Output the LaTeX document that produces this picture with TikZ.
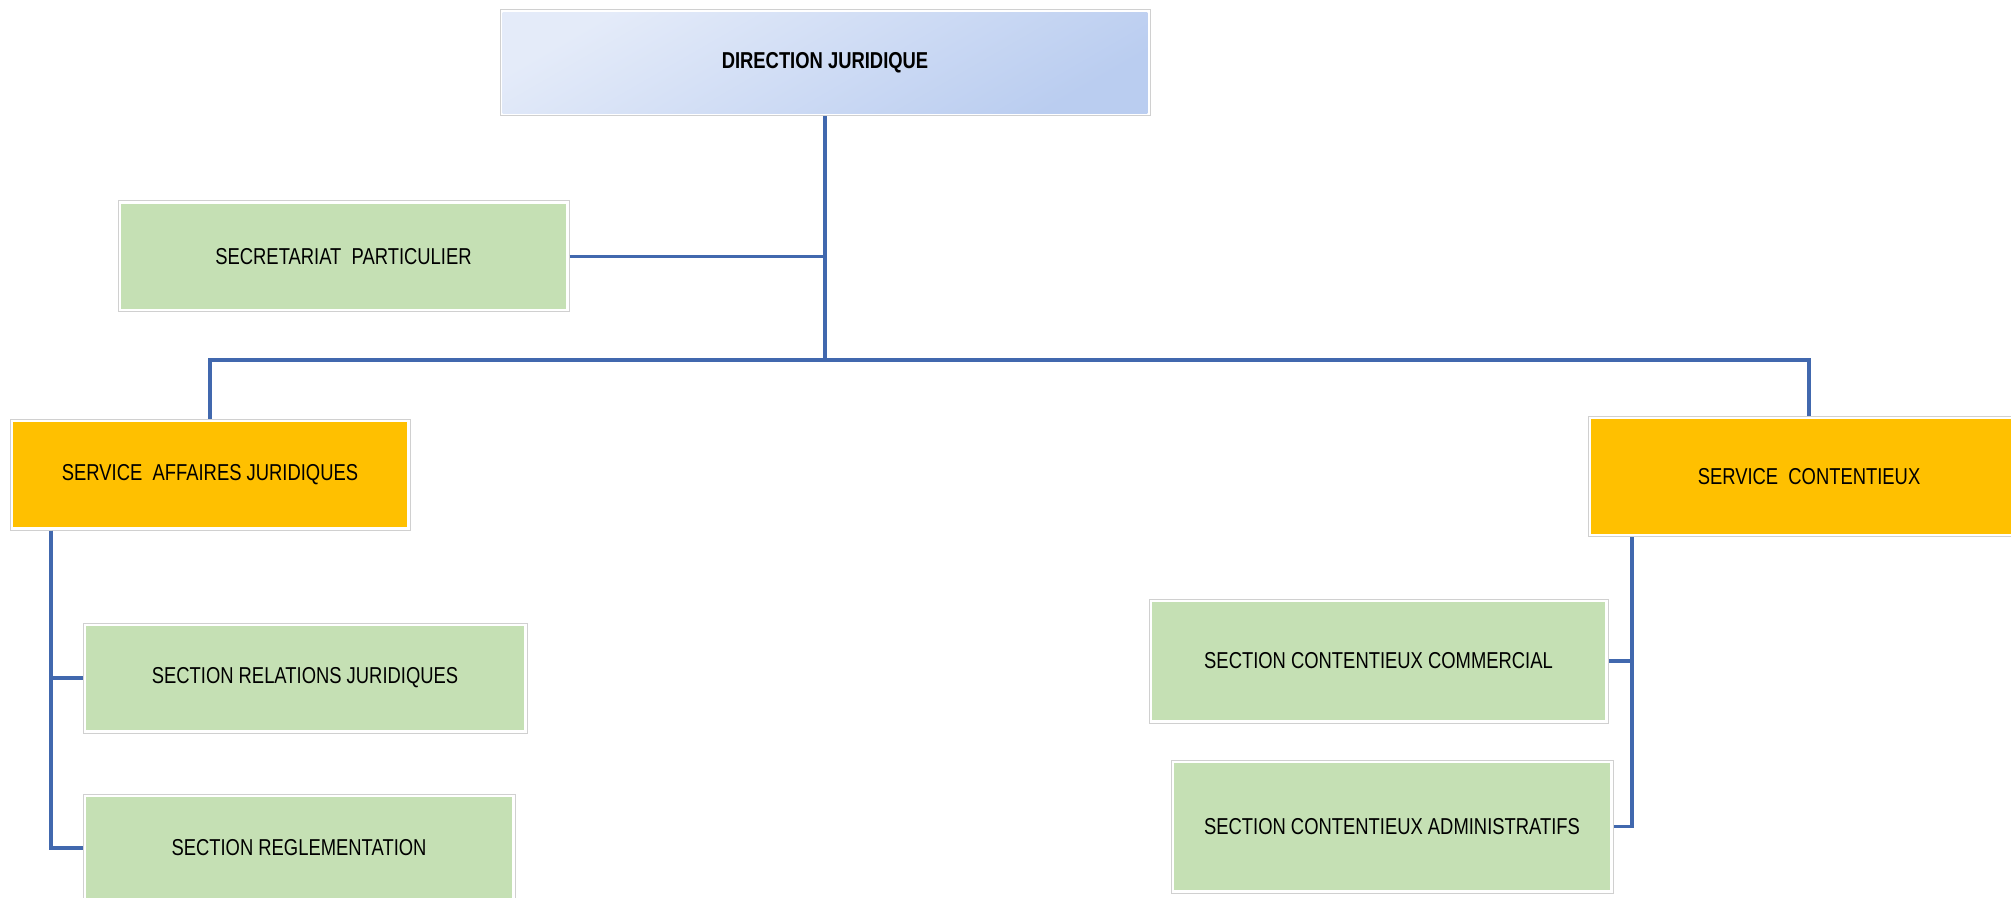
\documentclass[tikz,border=0pt]{standalone}
\usepackage{fontspec}
\setmainfont[FakeStretch=0.8]{Liberation Sans}
\definecolor{greenfill}{HTML}{C5E0B4}
\definecolor{orangefill}{HTML}{FFC000}
\definecolor{blueA}{HTML}{E4EBF9}
\definecolor{blueB}{HTML}{BACDF0}
\definecolor{linkblue}{HTML}{4168AE}
\definecolor{frame}{HTML}{D0D0D0}
\tikzset{
  orgbox/.style={draw=frame, line width=0.5pt, inner sep=0pt, align=center,
    font=\fontsize{11.5pt}{13pt}\selectfont,
    path picture={\fill[#1] ([shift={(1.3pt,-1.3pt)}]path picture bounding box.north west)
      rectangle ([shift={(-1.3pt,1.3pt)}]path picture bounding box.south east);}},
  headbox/.style={draw=frame, line width=0.5pt, inner sep=0pt, align=center,
    font=\fontsize{11.5pt}{13pt}\selectfont\bfseries,
    path picture={\shade[top color=blueA, bottom color=blueB, shading angle=30]
      ([shift={(1.3pt,-1.3pt)}]path picture bounding box.north west)
      rectangle ([shift={(-1.3pt,1.3pt)}]path picture bounding box.south east);}},
  link/.style={draw=linkblue, line width=1.6pt}
}
\begin{document}
\begin{tikzpicture}[x=0.5pt, y=-0.5pt]
  \useasboundingbox (0,0) rectangle (2011,898);
  \clip (0,0) rectangle (2011,898);

  % boxes
  \node[headbox, minimum width=325pt, minimum height=53pt] (dir) at (825,63) {DIRECTION JURIDIQUE};
  \node[orgbox=greenfill, minimum width=225.5pt, minimum height=55.5pt] (sec) at (343.5,256.5) {SECRETARIAT\ \ PARTICULIER};
  \node[orgbox=orangefill, minimum width=200pt, minimum height=55.5pt] (saj) at (210,474.5) {SERVICE\ \ AFFAIRES JURIDIQUES};
  \node[orgbox=orangefill, minimum width=221pt, minimum height=60pt] (sc) at (1809,476.5) {SERVICE\ \ CONTENTIEUX};
  \node[orgbox=greenfill, minimum width=222pt, minimum height=55pt] (srj) at (305,678) {SECTION RELATIONS JURIDIQUES};
  \node[orgbox=greenfill, minimum width=216pt, minimum height=54pt] (sr) at (299,848) {SECTION REGLEMENTATION};
  \node[orgbox=greenfill, minimum width=229.5pt, minimum height=62pt] (scc) at (1378.5,661) {SECTION CONTENTIEUX COMMERCIAL};
  \node[orgbox=greenfill, minimum width=221pt, minimum height=66.5pt] (sca) at (1392,826.5) {SECTION CONTENTIEUX ADMINISTRATIFS};

  % connector anchors
  \coordinate (bus) at (825,360);
  \coordinate (lx) at (51,0);
  \coordinate (rx) at (1632,0);

  % connectors
  \draw[link] (dir.south) -- (bus);
  \draw[link] (sec.east) -- (sec.east -| bus);
  \draw[link] (saj.north) |- (bus) -| (sc.north);
  \draw[link] (saj.south -| lx) |- (srj.west);
  \draw[link] (saj.south -| lx) |- (sr.west);
  \draw[link] (sc.south -| rx) |- (scc.east);
  \draw[link] (sc.south -| rx) |- (sca.east);
\end{tikzpicture}
\end{document}
